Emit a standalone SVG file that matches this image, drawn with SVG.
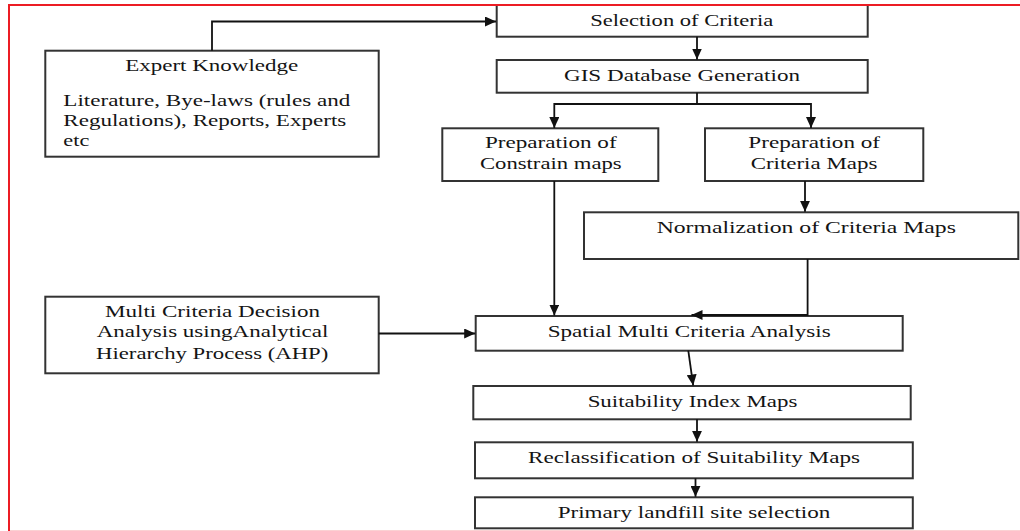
<svg xmlns="http://www.w3.org/2000/svg" width="1020" height="531" viewBox="0 0 1020 531">
<style>
.box{fill:#fff;stroke:#333;stroke-width:2}
.t{font-family:"Liberation Serif","Times New Roman",serif;font-size:16.5px;fill:#141414}
.c{text-anchor:middle}
.conn path{fill:none;stroke:#111;stroke-width:1.8}
.frame{fill:none;stroke:#ec1c24;stroke-width:2}
</style>
<defs>
<marker id="arr" markerUnits="userSpaceOnUse" markerWidth="12" markerHeight="10" refX="11" refY="5" orient="auto">
<path d="M0,0 L11,5 L0,10 z" fill="#111"/>
</marker>
</defs>
<rect x="0" y="0" width="1020" height="531" fill="#fff"/>

<g id="expert">
<rect class="box" x="45.3" y="50.7" width="333.4" height="106"/>
<text class="t c" x="211.7" y="71" textLength="173" lengthAdjust="spacingAndGlyphs">Expert Knowledge</text>
<text class="t" x="63.3" y="106" textLength="287" lengthAdjust="spacingAndGlyphs">Literature, Bye-laws (rules and</text>
<text class="t" x="63.3" y="126" textLength="283" lengthAdjust="spacingAndGlyphs">Regulations), Reports, Experts</text>
<text class="t" x="63.3" y="145.5" textLength="26" lengthAdjust="spacingAndGlyphs">etc</text>
</g>

<g id="selection">
<rect class="box" x="496.7" y="5" width="371" height="31.7"/>
<text class="t c" x="681.7" y="26" textLength="183" lengthAdjust="spacingAndGlyphs">Selection of Criteria</text>
</g>

<g id="gis">
<rect class="box" x="496.7" y="60" width="371" height="32.7"/>
<text class="t c" x="682" y="81" textLength="236" lengthAdjust="spacingAndGlyphs">GIS Database Generation</text>
</g>

<g id="constrain">
<rect class="box" x="442.3" y="128.3" width="216" height="52.7"/>
<text class="t c" x="550.8" y="148.3" textLength="131.7" lengthAdjust="spacingAndGlyphs">Preparation of</text>
<text class="t c" x="550.8" y="169.3" textLength="141.7" lengthAdjust="spacingAndGlyphs">Constrain maps</text>
</g>

<g id="criteria">
<rect class="box" x="705" y="128.3" width="218.3" height="52.7"/>
<text class="t c" x="814.2" y="148.3" textLength="131.7" lengthAdjust="spacingAndGlyphs">Preparation of</text>
<text class="t c" x="814" y="169.3" textLength="126.7" lengthAdjust="spacingAndGlyphs">Criteria Maps</text>
</g>

<g id="normalization">
<rect class="box" x="584" y="212.3" width="434.3" height="46.7"/>
<text class="t c" x="806.3" y="233" textLength="299.3" lengthAdjust="spacingAndGlyphs">Normalization of Criteria Maps</text>
</g>

<g id="mcda">
<rect class="box" x="45.3" y="296.7" width="333.4" height="76.6"/>
<text class="t c" x="212.5" y="316.7" textLength="215" lengthAdjust="spacingAndGlyphs">Multi Criteria Decision</text>
<text class="t c" x="212.5" y="337" textLength="231.7" lengthAdjust="spacingAndGlyphs">Analysis usingAnalytical</text>
<text class="t c" x="212.2" y="359" textLength="232.3" lengthAdjust="spacingAndGlyphs">Hierarchy Process (AHP)</text>
</g>

<g id="spatial">
<rect class="box" x="475.7" y="316" width="427" height="34.7"/>
<text class="t c" x="689.2" y="337" textLength="283" lengthAdjust="spacingAndGlyphs">Spatial Multi Criteria Analysis</text>
</g>

<g id="suitability">
<rect class="box" x="473.3" y="386" width="437.4" height="33.3"/>
<text class="t c" x="692.5" y="407" textLength="209.7" lengthAdjust="spacingAndGlyphs">Suitability Index Maps</text>
</g>

<g id="reclass">
<rect class="box" x="475" y="442.3" width="437.8" height="36"/>
<text class="t c" x="694" y="463" textLength="331.9" lengthAdjust="spacingAndGlyphs">Reclassification of Suitability Maps</text>
</g>

<g id="primary">
<rect class="box" x="475" y="497.3" width="437.8" height="31"/>
<text class="t c" x="694" y="518" textLength="272.7" lengthAdjust="spacingAndGlyphs">Primary landfill site selection</text>
</g>

<g id="connectors" class="conn">
<path d="M212,50.7 V21.5 H496" marker-end="url(#arr)"/>
<path d="M697,36.7 V59.5" marker-end="url(#arr)"/>
<path d="M697,92.7 V104"/>
<path d="M697,104 H554.3 V128" marker-end="url(#arr)"/>
<path d="M697,104 H811 V128" marker-end="url(#arr)"/>
<path d="M554.3,181 V315.5" marker-end="url(#arr)"/>
<path d="M805,181 V211.8" marker-end="url(#arr)"/>
<path d="M807.6,259 V315 H691.5" marker-end="url(#arr)"/>
<path d="M378.7,333.5 H475.2" marker-end="url(#arr)"/>
<path d="M688.3,350.7 L693.2,385.5" marker-end="url(#arr)"/>
<path d="M697,419.3 V441.8" marker-end="url(#arr)"/>
<path d="M695.5,478.3 V496.8" marker-end="url(#arr)"/>
</g>

<rect class="frame" x="9" y="5" width="1030" height="526.8"/>
</svg>
